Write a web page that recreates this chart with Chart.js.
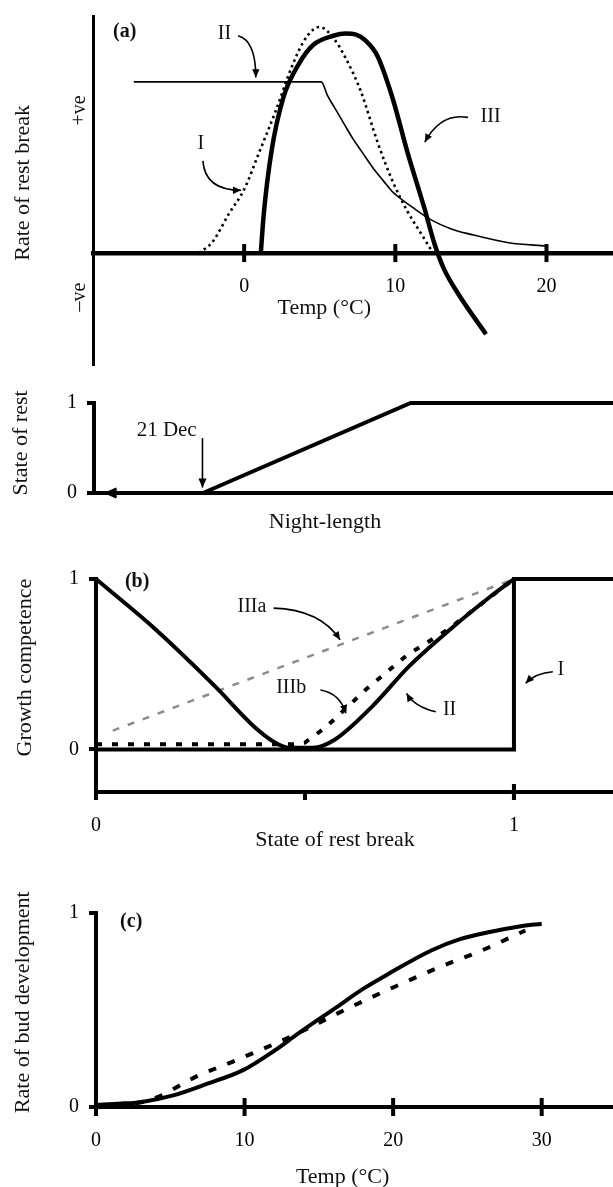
<!DOCTYPE html>
<html>
<head>
<meta charset="utf-8">
<script src="https://cdn.jsdelivr.net/npm/chart.js@4.4.1/dist/chart.umd.min.js"></script>
<style>
  html, body { margin: 0; padding: 0; background: #fff; }
  #page { position: relative; width: 613px; height: 1187px; overflow: hidden; background: #fff; }
  #page canvas { position: absolute; left: 0; }
</style>
</head>
<body>
<div id="page">
  <canvas id="panel-a" width="613" height="380" style="top:0;width:613px;height:380px"></canvas>
  <canvas id="panel-rest" width="613" height="160" style="top:380px;width:613px;height:160px"></canvas>
  <canvas id="panel-b" width="613" height="320" style="top:540px;width:613px;height:320px"></canvas>
  <canvas id="panel-c" width="613" height="327" style="top:860px;width:613px;height:327px"></canvas>
</div>
<script>
// Panel (a): rate of rest break against temperature
const tempTicksA = [0, 10, 20];
const tempI  = [-3.0, -2.1, -1.0, 0, 1.0, 2.1, 3.1, 3.9, 4.6, 5.0, 5.9, 6.7, 7.7, 8.8, 9.8, 10.8, 11.6, 12.5];
const rateI  = [0.0, 0.05, 0.18, 0.29, 0.46, 0.65, 0.84, 0.96, 1.02, 1.03, 0.98, 0.89, 0.74, 0.51, 0.33, 0.19, 0.10, 0.0];
const tempII = [-7.3, 5.1, 5.5, 6.0, 6.6, 7.2, 7.8, 8.5, 9.2, 9.8, 10.5, 11.1, 12.4, 13.7, 15.0, 17.5, 20.0];
const rateII = [0.78, 0.78, 0.72, 0.66, 0.59, 0.52, 0.46, 0.39, 0.33, 0.28, 0.24, 0.21, 0.15, 0.11, 0.085, 0.047, 0.032];
const tempIII = [1.1, 1.3, 1.8, 2.6, 3.6, 4.6, 5.9, 6.7, 7.4, 8.0, 8.8, 9.8, 10.8, 11.9, 12.6, 13.2, 14.2, 16.0];
const rateIII = [0, 0.18, 0.46, 0.71, 0.86, 0.95, 0.99, 1.0, 0.995, 0.97, 0.90, 0.71, 0.46, 0.21, 0.04, -0.07, -0.19, -0.37];

// State of rest against night-length (arbitrary 0-100 axis)
const nightLength = [21, 61, 100];
const restState = [0, 1, 1];
const restTicks = [0, 1];

// Panel (b): growth competence against state of rest break
const stateTicksB = [0, 0.5, 1];
const stateTickLabelsB = ['0', '', '1'];
const compTicks = [0, 1];
const stateI = [0, 1, 1, 1.24];
const compI = [0, 0, 1, 1];
const stateII = [0, 0.14, 0.285, 0.38, 0.425, 0.46, 0.52, 0.57, 0.66, 0.75, 0.85, 0.94, 1.0];
const compII = [1, 0.71, 0.37, 0.13, 0.045, 0.01, 0.01, 0.055, 0.25, 0.49, 0.71, 0.89, 1.0];
const stateIIIa = [0.04, 1.0];
const compIIIa = [0.11, 1.0];
const stateIIIb = [0, 0.47, 0.5, 0.55, 0.645, 0.745, 0.84, 1.0];
const compIIIb = [0.03, 0.03, 0.04, 0.13, 0.35, 0.555, 0.70, 1.0];

// Panel (c): rate of bud development against temperature
const tempTicksC = [0, 10, 20, 30];
const budTicks = [0, 1];
const tempSolid = [0, 1.5, 3, 5.2, 7.5, 9.9, 12, 13.6, 16.2, 18, 19.7, 22.6, 24.5, 26.5, 28.5, 30];
const rateSolid = [0.01, 0.017, 0.025, 0.06, 0.12, 0.19, 0.29, 0.378, 0.515, 0.61, 0.687, 0.808, 0.865, 0.902, 0.93, 0.945];
const tempDashed = [0, 2, 4.1, 6.7, 9.4, 13.6, 16.2, 19.1, 23.1, 26.0, 28.9];
const rateDashed = [0, 0.01, 0.05, 0.155, 0.24, 0.38, 0.48, 0.585, 0.72, 0.808, 0.91];

const serif = "'Liberation Serif', 'DejaVu Serif', serif";
Chart.defaults.font.family = serif;
Chart.defaults.color = '#000';

const pts = (xs, ys) => xs.map((v, i) => ({ x: v, y: ys[i] }));

// labels, arrows and crossing tick marks, placed in data units of each panel
const notes = {
  'panel-a': {
    ticks: { values: tempTicksA, at: 0, up: 9, down: 9, width: 4 },
    texts: [
      { text: 'Rate of rest break', at: [-14.6, 0.32], rotate: -90, size: 22 },
      { text: '+ve', at: [-10.9, 0.65], rotate: -90 },
      { text: '\u2013ve', at: [-10.85, -0.2], rotate: -90 },
      { text: 'Temp (\u00B0C)', at: [5.3, -0.25], size: 22 },
      { text: '(a)', at: [-7.9, 1.01], bold: true },
      { text: 'II', at: [-1.3, 1.0] },
      { text: 'I', at: [-2.86, 0.5] },
      { text: 'III', at: [16.3, 0.62] }
    ],
    arrows: [
      { from: [-0.4, 0.99], via: [0.77, 0.968], to: [0.77, 0.8] },
      { from: [-2.73, 0.42], via: [-2.6, 0.286], to: [-0.2, 0.286] },
      { from: [14.8, 0.618], via: [13.0, 0.64], to: [11.95, 0.505] }
    ]
  },
  'panel-rest': {
    texts: [
      { text: 'State of rest', at: [-13.97, 0.556], rotate: -90, size: 22 },
      { text: '21 Dec', at: [14.0, 0.7], size: 21 },
      { text: 'Night-length', at: [44.5, -0.32], size: 22 }
    ],
    arrows: [
      { from: [20.9, 0.61], to: [20.9, 0.06], size: 10 },
      { from: [6, 0], to: [2.6, 0], size: 10, open: true, width: 3 }
    ]
  },
  'panel-b': {
    ticks: { values: stateTicksB, at: -0.25, up: 8, down: 8, width: 4, downOnly: [0.5] },
    texts: [
      { text: 'Growth competence', at: [-0.17, 0.48], rotate: -90, size: 22 },
      { text: 'State of rest break', at: [0.572, -0.535], size: 22 },
      { text: '(b)', at: [0.0985, 0.984], bold: true },
      { text: 'IIIa', at: [0.373, 0.837] },
      { text: 'IIIb', at: [0.467, 0.359] },
      { text: 'II', at: [0.846, 0.231] },
      { text: 'I', at: [1.112, 0.466] }
    ],
    arrows: [
      { from: [0.425, 0.829], via: [0.537, 0.82], to: [0.584, 0.643] },
      { from: [0.537, 0.349], via: [0.584, 0.329], to: [0.598, 0.212] },
      { from: [0.813, 0.221], via: [0.762, 0.25], to: [0.743, 0.329] },
      { from: [1.093, 0.456], via: [1.052, 0.449], to: [1.028, 0.388] }
    ]
  },
  'panel-c': {
    ticks: { values: tempTicksC, at: 0, up: 9, down: 9, width: 4 },
    texts: [
      { text: 'Rate of bud development', at: [-4.87, 0.54], rotate: -90, size: 22 },
      { text: 'Temp (\u00B0C)', at: [16.6, -0.36], size: 22 },
      { text: '(c)', at: [2.37, 0.954], bold: true }
    ],
    arrows: []
  }
};

const sketchNotes = {
  id: 'sketchNotes',
  afterDraw(chart) {
    const cfg = notes[chart.canvas.id];
    if (!cfg) return;
    const { ctx } = chart;
    const xs = chart.scales.x, ys = chart.scales.y;
    const px = v => xs.getPixelForValue(v);
    const py = v => ys.getPixelForValue(v);
    ctx.save();
    ctx.strokeStyle = '#000';
    ctx.fillStyle = '#000';

    const t = cfg.ticks;
    if (t) {
      const base = py(t.at);
      ctx.lineWidth = t.width;
      t.values.forEach(v => {
        const xp = px(v);
        const up = (t.downOnly || []).includes(v) ? 0 : t.up;
        ctx.beginPath();
        ctx.moveTo(xp, base - up);
        ctx.lineTo(xp, base + t.down);
        ctx.stroke();
      });
    }

    (cfg.arrows || []).forEach(a => {
      const x0 = px(a.from[0]), y0 = py(a.from[1]);
      const x1 = px(a.to[0]), y1 = py(a.to[1]);
      const cx = a.via ? px(a.via[0]) : (x0 + x1) / 2;
      const cy = a.via ? py(a.via[1]) : (y0 + y1) / 2;
      ctx.lineWidth = a.width || 1.6;
      ctx.beginPath();
      ctx.moveTo(x0, y0);
      ctx.quadraticCurveTo(cx, cy, x1, y1);
      ctx.stroke();
      const ang = Math.atan2(y1 - cy, x1 - cx);
      const len = a.size || 9, spread = 0.42;
      ctx.beginPath();
      ctx.moveTo(x1 - len * Math.cos(ang - spread), y1 - len * Math.sin(ang - spread));
      ctx.lineTo(x1, y1);
      ctx.lineTo(x1 - len * Math.cos(ang + spread), y1 - len * Math.sin(ang + spread));
      if (a.open) {
        ctx.stroke();
      } else {
        ctx.closePath();
        ctx.fill();
      }
    });

    (cfg.texts || []).forEach(n => {
      ctx.save();
      ctx.translate(px(n.at[0]), py(n.at[1]));
      if (n.rotate) ctx.rotate(n.rotate * Math.PI / 180);
      ctx.font = (n.bold ? 'bold ' : '') + (n.size || 20) + 'px ' + serif;
      ctx.textAlign = 'center';
      ctx.textBaseline = 'middle';
      ctx.fillStyle = '#111';
      ctx.fillText(n.text, 0, 0);
      ctx.restore();
    });
    ctx.restore();
  }
};
Chart.register(sketchNotes);

function line(data, width, extra) {
  return Object.assign({
    data: data,
    showLine: true,
    borderColor: '#000',
    backgroundColor: '#000',
    borderWidth: width,
    pointRadius: 0,
    fill: false,
    clip: false,
    tension: 0
  }, extra || {});
}

// smooth curves that do not overshoot their read-off points
const smooth = { cubicInterpolationMode: 'monotone', tension: 0.4 };

function common(padding, scales) {
  return {
    responsive: false,
    animation: false,
    devicePixelRatio: 1,
    layout: { padding: padding },
    events: [],
    plugins: { legend: { display: false }, tooltip: { enabled: false } },
    scales: scales
  };
}

const tickFont = { family: serif, size: 20 };
const noGrid = { display: false, drawTicks: false };
const stubGrid = { display: true, drawOnChartArea: false, drawTicks: true, tickLength: 7, lineWidth: 4, color: '#000' };
const fixedTicks = values => scale => { scale.ticks = values.map(v => ({ value: v })); };

// Panel (a)
new Chart(document.getElementById('panel-a'), {
  type: 'scatter',
  data: {
    datasets: [
      line(pts(tempIII, rateIII), 4.5, smooth),
      line(pts(tempII, rateII), 1.6, smooth),
      line(pts(tempI, rateI), 2.6, Object.assign({ borderDash: [2.5, 3.5] }, smooth))
    ]
  },
  options: common({ top: 16, bottom: 15, left: 0, right: 0 }, {
    x: {
      type: 'linear', min: -10, max: 24.4, position: { y: 0 },
      grid: noGrid,
      border: { display: true, width: 4.5, color: '#000' },
      ticks: { padding: 22, font: tickFont, color: '#000' },
      afterBuildTicks: fixedTicks(tempTicksA)
    },
    y: {
      type: 'linear', min: -0.51, max: 1.08,
      grid: noGrid,
      border: { display: true, width: 3, color: '#000' },
      ticks: { display: false },
      afterFit: s => { s.width = 93; }
    }
  })
});

// State of rest
new Chart(document.getElementById('panel-rest'), {
  type: 'scatter',
  data: { datasets: [line(pts(nightLength, restState), 4)] },
  options: common({ top: 23, bottom: 0, left: 0, right: 0 }, {
    x: {
      type: 'linear', min: 0, max: 100, position: 'bottom',
      grid: noGrid,
      border: { display: true, width: 4, color: '#000' },
      ticks: { display: false },
      afterFit: s => { s.height = 47; }
    },
    y: {
      type: 'linear', min: 0, max: 1,
      grid: stubGrid,
      border: { display: true, width: 4, color: '#000' },
      ticks: { padding: 10, font: tickFont, color: '#000' },
      afterBuildTicks: fixedTicks(restTicks),
      afterFit: s => { s.width = 94; }
    }
  })
});

// Panel (b)
new Chart(document.getElementById('panel-b'), {
  type: 'scatter',
  data: {
    datasets: [
      line(pts(stateII, compII), 4, smooth),
      line(pts(stateI, compI), 4),
      line(pts(stateIIIb, compIIIb), 4, { borderDash: [6, 10] }),
      line(pts(stateIIIa, compIIIa), 2.5, { borderColor: '#8c8c8c', borderDash: [7, 9] })
    ]
  },
  options: common({ top: 39, bottom: 0, left: 0, right: 0 }, {
    x: {
      type: 'linear', min: 0, max: 1.237, position: 'bottom',
      grid: noGrid,
      border: { display: true, width: 4, color: '#000' },
      ticks: { padding: 22, font: tickFont, color: '#000', callback: (v, i) => stateTickLabelsB[i] },
      afterBuildTicks: fixedTicks(stateTicksB),
      afterFit: s => { s.height = 68; }
    },
    y: {
      type: 'linear', min: -0.25, max: 1,
      grid: stubGrid,
      border: { display: true, width: 4, color: '#000' },
      ticks: { padding: 10, font: tickFont, color: '#000' },
      afterBuildTicks: fixedTicks(compTicks),
      afterFit: s => { s.width = 96; }
    }
  })
});

// Panel (c)
new Chart(document.getElementById('panel-c'), {
  type: 'scatter',
  data: {
    datasets: [
      line(pts(tempSolid, rateSolid), 4, smooth),
      line(pts(tempDashed, rateDashed), 4, Object.assign({ borderDash: [8, 12] }, smooth))
    ]
  },
  options: common({ top: 53, bottom: 0, left: 0, right: 0 }, {
    x: {
      type: 'linear', min: 0, max: 34.8, position: 'bottom',
      grid: noGrid,
      border: { display: true, width: 4, color: '#000' },
      ticks: { padding: 22, font: tickFont, color: '#000' },
      afterBuildTicks: fixedTicks(tempTicksC),
      afterFit: s => { s.height = 80; }
    },
    y: {
      type: 'linear', min: 0, max: 1,
      grid: stubGrid,
      border: { display: true, width: 4, color: '#000' },
      ticks: { padding: 10, font: tickFont, color: '#000' },
      afterBuildTicks: fixedTicks(budTicks),
      afterFit: s => { s.width = 96; }
    }
  })
});
</script>
</body>
</html>
